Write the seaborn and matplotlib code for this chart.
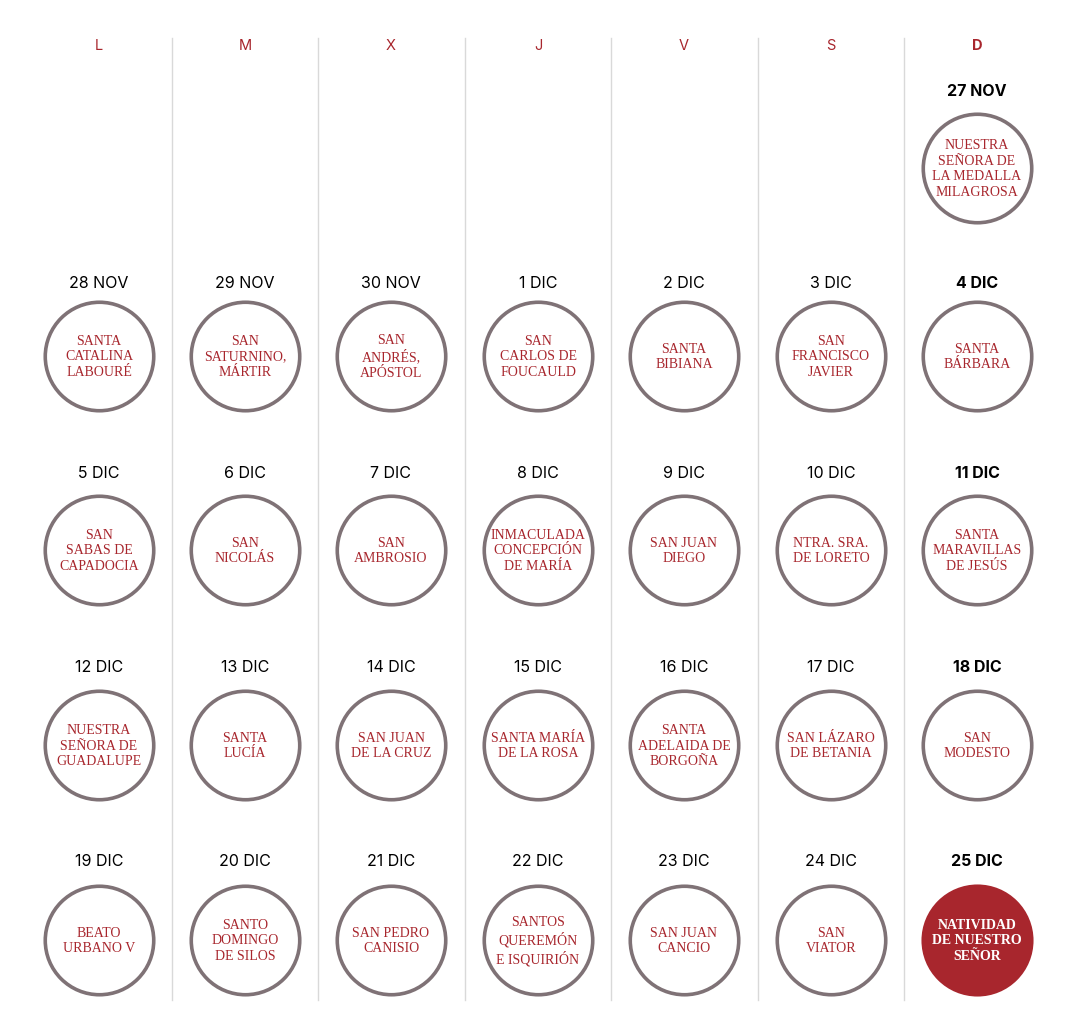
import matplotlib.pyplot as plt
import pandas as pd
import seaborn as sns

# datos del calendario
dias_semana = ['L', 'M', 'X', 'J', 'V', 'S', 'D']
fechas = ['27 NOV', '28 NOV', '29 NOV', '30 NOV', '1 DIC', '2 DIC', '3 DIC', '4 DIC',
          '5 DIC', '6 DIC', '7 DIC', '8 DIC', '9 DIC', '10 DIC', '11 DIC',
          '12 DIC', '13 DIC', '14 DIC', '15 DIC', '16 DIC', '17 DIC', '18 DIC',
          '19 DIC', '20 DIC', '21 DIC', '22 DIC', '23 DIC', '24 DIC', '25 DIC']
santos = ['NUESTRA\nSEÑORA DE\nLA MEDALLA\nMILAGROSA',
          'SANTA\nCATALINA\nLABOURÉ', 'SAN\nSATURNINO,\nMÁRTIR', 'SAN\nANDRÉS,\nAPÓSTOL',
          'SAN\nCARLOS DE\nFOUCAULD', 'SANTA\nBIBIANA', 'SAN\nFRANCISCO\nJAVIER', 'SANTA\nBÁRBARA',
          'SAN\nSABAS DE\nCAPADOCIA', 'SAN\nNICOLÁS', 'SAN\nAMBROSIO',
          'INMACULADA\nCONCEPCIÓN\nDE MARÍA', 'SAN JUAN\nDIEGO', 'NTRA. SRA.\nDE LORETO',
          'SANTA\nMARAVILLAS\nDE JESÚS',
          'NUESTRA\nSEÑORA DE\nGUADALUPE', 'SANTA\nLUCÍA', 'SAN JUAN\nDE LA CRUZ',
          'SANTA MARÍA\nDE LA ROSA', 'SANTA\nADELAIDA DE\nBORGOÑA', 'SAN LÁZARO\nDE BETANIA',
          'SAN\nMODESTO',
          'BEATO\nURBANO V', 'SANTO\nDOMINGO\nDE SILOS', 'SAN PEDRO\nCANISIO',
          'SANTOS\nQUEREMÓN\nE ISQUIRIÓN', 'SAN JUAN\nCANCIO', 'SAN\nVIATOR',
          'NATIVIDAD\nDE NUESTRO\nSEÑOR']

ROJO = '#a8262d'
GRIS = '#7f7276'

# posicion en la rejilla: el 27 nov cae en domingo
col = [(i + 6) % 7 for i in range(len(fechas))]
fila = [(i + 6) // 7 for i in range(len(fechas))]
df = pd.DataFrame({'fecha': fechas, 'santo': santos, 'col': col, 'fila': fila})
xs = [99, 245, 391, 538, 684, 831, 977]
ys = [168, 356, 550, 745, 940]
ys_fecha = [91, 284, 473, 667, 862]
df['x'] = [xs[c] for c in df['col']]
df['y'] = [ys[f] for f in df['fila']]
df['yf'] = [ys_fecha[f] for f in df['fila']]

fig = plt.figure(figsize=(10.68, 10.35), dpi=100)
ax = fig.add_axes([0, 0, 1, 1])

# separadores de columna
for i in range(6):
    xv = (xs[i] + xs[i + 1]) / 2
    ax.plot([xv, xv], [38, 1000], color='#d9d9d9', lw=1, zorder=0)

for i, d in enumerate(dias_semana):
    ax.text(xs[i], 46, d, ha='center', va='center', color=ROJO, fontsize=10.5,
            fontfamily='Inter', fontweight='bold' if d == 'D' else 'normal')

ultimo = df.index[-1]
sns.scatterplot(data=df.iloc[:-1], x='x', y='y', s=6100, facecolor='white',
                edgecolor=GRIS, linewidth=2.6, ax=ax, legend=False, zorder=2)
sns.scatterplot(data=df.iloc[[ultimo]], x='x', y='y', s=6100, color=ROJO,
                edgecolor=ROJO, linewidth=2.6, ax=ax, legend=False, zorder=2)
ax.set_xlim(0, 1068)
ax.set_ylim(1035, 0)
ax.axis('off')

for _, r in df.iterrows():
    domingo = r['col'] == 6
    ax.text(r['x'], r['yf'], r['fecha'], ha='center', va='center', color='black',
            fontsize=11.5, fontfamily='Inter', fontweight='bold' if domingo else 'normal')
    final = r.name == ultimo
    ax.text(r['x'], r['y'] + 1, r['santo'], ha='center', va='center',
            color='white' if final else ROJO, fontsize=10, linespacing=1.25,
            fontfamily='Liberation Serif', fontweight='bold' if final else 'normal', zorder=3)

fig.savefig('out.png', dpi=100, facecolor='white')
